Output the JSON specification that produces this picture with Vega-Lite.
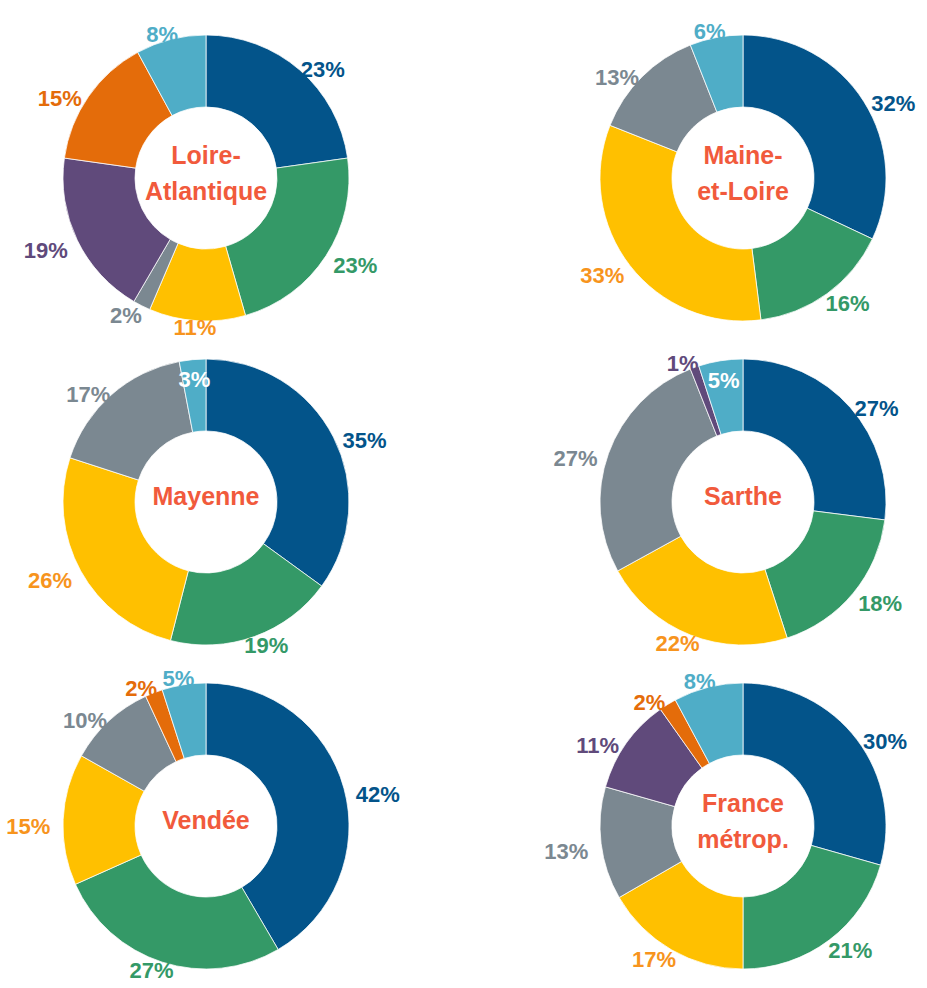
{
  "$schema": "https://vega.github.io/schema/vega-lite/v6.json",
  "padding": {"left": 6, "top": 21, "right": 0, "bottom": 0},
  "background": "white",
  "config": {"view": {"stroke": null}},
  "datasets": {
    "shares": [
      {"region": "Loire-Atlantique", "title": "Loire-\nAtlantique", "seg": "c1", "order": 1, "v": 0.23},
      {"region": "Loire-Atlantique", "title": "Loire-\nAtlantique", "seg": "c2", "order": 2, "v": 0.23},
      {"region": "Loire-Atlantique", "title": "Loire-\nAtlantique", "seg": "c3", "order": 3, "v": 0.11},
      {"region": "Loire-Atlantique", "title": "Loire-\nAtlantique", "seg": "c4", "order": 4, "v": 0.02},
      {"region": "Loire-Atlantique", "title": "Loire-\nAtlantique", "seg": "c5", "order": 5, "v": 0.19},
      {"region": "Loire-Atlantique", "title": "Loire-\nAtlantique", "seg": "c6", "order": 6, "v": 0.15},
      {"region": "Loire-Atlantique", "title": "Loire-\nAtlantique", "seg": "c7", "order": 7, "v": 0.08},
      {"region": "Maine-et-Loire", "title": "Maine-\net-Loire", "seg": "c1", "order": 1, "v": 0.32},
      {"region": "Maine-et-Loire", "title": "Maine-\net-Loire", "seg": "c2", "order": 2, "v": 0.16},
      {"region": "Maine-et-Loire", "title": "Maine-\net-Loire", "seg": "c3", "order": 3, "v": 0.33},
      {"region": "Maine-et-Loire", "title": "Maine-\net-Loire", "seg": "c4", "order": 4, "v": 0.13},
      {"region": "Maine-et-Loire", "title": "Maine-\net-Loire", "seg": "c7", "order": 7, "v": 0.06},
      {"region": "Mayenne", "title": "Mayenne", "seg": "c1", "order": 1, "v": 0.35},
      {"region": "Mayenne", "title": "Mayenne", "seg": "c2", "order": 2, "v": 0.19},
      {"region": "Mayenne", "title": "Mayenne", "seg": "c3", "order": 3, "v": 0.26},
      {"region": "Mayenne", "title": "Mayenne", "seg": "c4", "order": 4, "v": 0.17},
      {"region": "Mayenne", "title": "Mayenne", "seg": "c7", "order": 7, "v": 0.03},
      {"region": "Sarthe", "title": "Sarthe", "seg": "c1", "order": 1, "v": 0.27},
      {"region": "Sarthe", "title": "Sarthe", "seg": "c2", "order": 2, "v": 0.18},
      {"region": "Sarthe", "title": "Sarthe", "seg": "c3", "order": 3, "v": 0.22},
      {"region": "Sarthe", "title": "Sarthe", "seg": "c4", "order": 4, "v": 0.27},
      {"region": "Sarthe", "title": "Sarthe", "seg": "c5", "order": 5, "v": 0.01},
      {"region": "Sarthe", "title": "Sarthe", "seg": "c7", "order": 7, "v": 0.05},
      {"region": "Vendée", "title": "Vendée", "seg": "c1", "order": 1, "v": 0.42},
      {"region": "Vendée", "title": "Vendée", "seg": "c2", "order": 2, "v": 0.27},
      {"region": "Vendée", "title": "Vendée", "seg": "c3", "order": 3, "v": 0.15},
      {"region": "Vendée", "title": "Vendée", "seg": "c4", "order": 4, "v": 0.10},
      {"region": "Vendée", "title": "Vendée", "seg": "c6", "order": 6, "v": 0.02},
      {"region": "Vendée", "title": "Vendée", "seg": "c7", "order": 7, "v": 0.05},
      {"region": "France métrop.", "title": "France\nmétrop.", "seg": "c1", "order": 1, "v": 0.30},
      {"region": "France métrop.", "title": "France\nmétrop.", "seg": "c2", "order": 2, "v": 0.21},
      {"region": "France métrop.", "title": "France\nmétrop.", "seg": "c3", "order": 3, "v": 0.17},
      {"region": "France métrop.", "title": "France\nmétrop.", "seg": "c4", "order": 4, "v": 0.13},
      {"region": "France métrop.", "title": "France\nmétrop.", "seg": "c5", "order": 5, "v": 0.11},
      {"region": "France métrop.", "title": "France\nmétrop.", "seg": "c6", "order": 6, "v": 0.02},
      {"region": "France métrop.", "title": "France\nmétrop.", "seg": "c7", "order": 7, "v": 0.08}
    ]
  },
  "data": {"name": "shares"},
  "columns": 2,
  "bounds": "flush",
  "spacing": {"row": 34, "column": 247},
  "concat": [
    {
      "width": 290, "height": 290,
      "transform": [{"filter": "datum.region == 'Loire-Atlantique'"}],
      "layer": [
        {"mark": {"type": "arc", "radius": 143, "radius2": 71, "stroke": "white", "strokeWidth": 0.75},
         "encoding": {"theta": {"field": "v", "type": "quantitative", "stack": "normalize"}, "order": {"field": "order", "type": "quantitative"},
           "fill": {"field": "seg", "type": "nominal", "legend": null, "scale": {"domain": ["c1", "c2", "c3", "c4", "c5", "c6", "c7"], "range": ["#03548A", "#349967", "#FFC000", "#7B8891", "#604A7B", "#E46C0A", "#4FADC7"]}}}},
        {"mark": {"type": "text", "radius": 150, "dx": {"expr": "28 * sin(PI * (datum.v_start + datum.v_end))"}, "dy": {"expr": "8 * abs(sin(PI * (datum.v_start + datum.v_end)))"}, "fontSize": 22, "fontWeight": "bold", "font": "Liberation Sans", "align": "center", "baseline": "middle"},
         "encoding": {"theta": {"field": "v", "type": "quantitative", "stack": "normalize"}, "order": {"field": "order", "type": "quantitative"},
           "text": {"field": "v", "type": "quantitative", "format": ".0%"},
           "color": {"field": "seg", "type": "nominal", "legend": null, "scale": {"domain": ["c1", "c2", "c3", "c4", "c5", "c6", "c7"], "range": ["#03548A", "#349967", "#F7941D", "#7B8891", "#604A7B", "#E46C0A", "#4FADC7"]}}}},
        {"transform": [{"filter": "datum.order == 1"}],
         "mark": {"type": "text", "fontSize": 25, "fontWeight": "bold", "font": "Liberation Sans", "align": "center", "baseline": "middle", "lineBreak": "\n", "lineHeight": 36, "color": "#F15A3C", "dy": -22},
         "encoding": {"text": {"field": "title", "type": "nominal"}}}
      ]
    },
    {
      "width": 290, "height": 290,
      "transform": [{"filter": "datum.region == 'Maine-et-Loire'"}],
      "layer": [
        {"mark": {"type": "arc", "radius": 143, "radius2": 71, "stroke": "white", "strokeWidth": 0.75},
         "encoding": {"theta": {"field": "v", "type": "quantitative", "stack": "normalize"}, "order": {"field": "order", "type": "quantitative"},
           "fill": {"field": "seg", "type": "nominal", "legend": null, "scale": {"domain": ["c1", "c2", "c3", "c4", "c5", "c6", "c7"], "range": ["#03548A", "#349967", "#FFC000", "#7B8891", "#604A7B", "#E46C0A", "#4FADC7"]}}}},
        {"mark": {"type": "text", "radius": 150, "dx": {"expr": "28 * sin(PI * (datum.v_start + datum.v_end))"}, "dy": {"expr": "8 * abs(sin(PI * (datum.v_start + datum.v_end)))"}, "fontSize": 22, "fontWeight": "bold", "font": "Liberation Sans", "align": "center", "baseline": "middle"},
         "encoding": {"theta": {"field": "v", "type": "quantitative", "stack": "normalize"}, "order": {"field": "order", "type": "quantitative"},
           "text": {"field": "v", "type": "quantitative", "format": ".0%"},
           "color": {"field": "seg", "type": "nominal", "legend": null, "scale": {"domain": ["c1", "c2", "c3", "c4", "c5", "c6", "c7"], "range": ["#03548A", "#349967", "#F7941D", "#7B8891", "#604A7B", "#E46C0A", "#4FADC7"]}}}},
        {"transform": [{"filter": "datum.order == 1"}],
         "mark": {"type": "text", "fontSize": 25, "fontWeight": "bold", "font": "Liberation Sans", "align": "center", "baseline": "middle", "lineBreak": "\n", "lineHeight": 36, "color": "#F15A3C", "dy": -22},
         "encoding": {"text": {"field": "title", "type": "nominal"}}}
      ]
    },
    {
      "width": 290, "height": 290,
      "transform": [{"filter": "datum.region == 'Mayenne'"}],
      "layer": [
        {"mark": {"type": "arc", "radius": 143, "radius2": 71, "stroke": "white", "strokeWidth": 0.75},
         "encoding": {"theta": {"field": "v", "type": "quantitative", "stack": "normalize"}, "order": {"field": "order", "type": "quantitative"},
           "fill": {"field": "seg", "type": "nominal", "legend": null, "scale": {"domain": ["c1", "c2", "c3", "c4", "c5", "c6", "c7"], "range": ["#03548A", "#349967", "#FFC000", "#7B8891", "#604A7B", "#E46C0A", "#4FADC7"]}}}},
        {"mark": {"type": "text", "radius": 150, "dx": {"expr": "28 * sin(PI * (datum.v_start + datum.v_end))"}, "dy": {"expr": "8 * abs(sin(PI * (datum.v_start + datum.v_end)))"}, "fontSize": 22, "fontWeight": "bold", "font": "Liberation Sans", "align": "center", "baseline": "middle"},
         "encoding": {"theta": {"field": "v", "type": "quantitative", "stack": "normalize"}, "order": {"field": "order", "type": "quantitative"},
           "text": {"field": "v", "type": "quantitative", "format": ".0%"},
           "color": {"field": "seg", "type": "nominal", "legend": null, "scale": {"domain": ["c1", "c2", "c3", "c4", "c5", "c6", "c7"], "range": ["#03548A", "#349967", "#F7941D", "#7B8891", "#604A7B", "#E46C0A", "#4FADC7"]}},
           "opacity": {"condition": {"test": "datum.seg == 'c7'", "value": 0}, "value": 1}}},
        {"mark": {"type": "text", "radius": 123, "fontSize": 22, "fontWeight": "bold", "font": "Liberation Sans", "align": "center", "baseline": "middle", "color": "white"},
         "encoding": {"theta": {"field": "v", "type": "quantitative", "stack": "normalize"}, "order": {"field": "order", "type": "quantitative"}, "detail": {"field": "seg", "type": "nominal"},
           "text": {"field": "v", "type": "quantitative", "format": ".0%"},
           "opacity": {"condition": {"test": "datum.seg == 'c7'", "value": 1}, "value": 0}}},
        {"transform": [{"filter": "datum.order == 1"}],
         "mark": {"type": "text", "fontSize": 25, "fontWeight": "bold", "font": "Liberation Sans", "align": "center", "baseline": "middle", "color": "#F15A3C", "dy": -5},
         "encoding": {"text": {"field": "title", "type": "nominal"}}}
      ]
    },
    {
      "width": 290, "height": 290,
      "transform": [{"filter": "datum.region == 'Sarthe'"}],
      "layer": [
        {"mark": {"type": "arc", "radius": 143, "radius2": 71, "stroke": "white", "strokeWidth": 0.75},
         "encoding": {"theta": {"field": "v", "type": "quantitative", "stack": "normalize"}, "order": {"field": "order", "type": "quantitative"},
           "fill": {"field": "seg", "type": "nominal", "legend": null, "scale": {"domain": ["c1", "c2", "c3", "c4", "c5", "c6", "c7"], "range": ["#03548A", "#349967", "#FFC000", "#7B8891", "#604A7B", "#E46C0A", "#4FADC7"]}}}},
        {"mark": {"type": "text", "radius": 150, "dx": {"expr": "28 * sin(PI * (datum.v_start + datum.v_end))"}, "dy": {"expr": "8 * abs(sin(PI * (datum.v_start + datum.v_end)))"}, "fontSize": 22, "fontWeight": "bold", "font": "Liberation Sans", "align": "center", "baseline": "middle"},
         "encoding": {"theta": {"field": "v", "type": "quantitative", "stack": "normalize"}, "order": {"field": "order", "type": "quantitative"},
           "text": {"field": "v", "type": "quantitative", "format": ".0%"},
           "color": {"field": "seg", "type": "nominal", "legend": null, "scale": {"domain": ["c1", "c2", "c3", "c4", "c5", "c6", "c7"], "range": ["#03548A", "#349967", "#F7941D", "#7B8891", "#604A7B", "#E46C0A", "#4FADC7"]}},
           "opacity": {"condition": {"test": "datum.seg == 'c7'", "value": 0}, "value": 1}}},
        {"mark": {"type": "text", "radius": 123, "fontSize": 22, "fontWeight": "bold", "font": "Liberation Sans", "align": "center", "baseline": "middle", "color": "white"},
         "encoding": {"theta": {"field": "v", "type": "quantitative", "stack": "normalize"}, "order": {"field": "order", "type": "quantitative"}, "detail": {"field": "seg", "type": "nominal"},
           "text": {"field": "v", "type": "quantitative", "format": ".0%"},
           "opacity": {"condition": {"test": "datum.seg == 'c7'", "value": 1}, "value": 0}}},
        {"transform": [{"filter": "datum.order == 1"}],
         "mark": {"type": "text", "fontSize": 25, "fontWeight": "bold", "font": "Liberation Sans", "align": "center", "baseline": "middle", "color": "#F15A3C", "dy": -5},
         "encoding": {"text": {"field": "title", "type": "nominal"}}}
      ]
    },
    {
      "width": 290, "height": 290,
      "transform": [{"filter": "datum.region == 'Vendée'"}],
      "layer": [
        {"mark": {"type": "arc", "radius": 143, "radius2": 71, "stroke": "white", "strokeWidth": 0.75},
         "encoding": {"theta": {"field": "v", "type": "quantitative", "stack": "normalize"}, "order": {"field": "order", "type": "quantitative"},
           "fill": {"field": "seg", "type": "nominal", "legend": null, "scale": {"domain": ["c1", "c2", "c3", "c4", "c5", "c6", "c7"], "range": ["#03548A", "#349967", "#FFC000", "#7B8891", "#604A7B", "#E46C0A", "#4FADC7"]}}}},
        {"mark": {"type": "text", "radius": 150, "dx": {"expr": "28 * sin(PI * (datum.v_start + datum.v_end))"}, "dy": {"expr": "8 * abs(sin(PI * (datum.v_start + datum.v_end)))"}, "fontSize": 22, "fontWeight": "bold", "font": "Liberation Sans", "align": "center", "baseline": "middle"},
         "encoding": {"theta": {"field": "v", "type": "quantitative", "stack": "normalize"}, "order": {"field": "order", "type": "quantitative"},
           "text": {"field": "v", "type": "quantitative", "format": ".0%"},
           "color": {"field": "seg", "type": "nominal", "legend": null, "scale": {"domain": ["c1", "c2", "c3", "c4", "c5", "c6", "c7"], "range": ["#03548A", "#349967", "#F7941D", "#7B8891", "#604A7B", "#E46C0A", "#4FADC7"]}}}},
        {"transform": [{"filter": "datum.order == 1"}],
         "mark": {"type": "text", "fontSize": 25, "fontWeight": "bold", "font": "Liberation Sans", "align": "center", "baseline": "middle", "color": "#F15A3C", "dy": -5},
         "encoding": {"text": {"field": "title", "type": "nominal"}}}
      ]
    },
    {
      "width": 290, "height": 290,
      "transform": [{"filter": "datum.region == 'France métrop.'"}],
      "layer": [
        {"mark": {"type": "arc", "radius": 143, "radius2": 71, "stroke": "white", "strokeWidth": 0.75},
         "encoding": {"theta": {"field": "v", "type": "quantitative", "stack": "normalize"}, "order": {"field": "order", "type": "quantitative"},
           "fill": {"field": "seg", "type": "nominal", "legend": null, "scale": {"domain": ["c1", "c2", "c3", "c4", "c5", "c6", "c7"], "range": ["#03548A", "#349967", "#FFC000", "#7B8891", "#604A7B", "#E46C0A", "#4FADC7"]}}}},
        {"mark": {"type": "text", "radius": 150, "dx": {"expr": "28 * sin(PI * (datum.v_start + datum.v_end))"}, "dy": {"expr": "8 * abs(sin(PI * (datum.v_start + datum.v_end)))"}, "fontSize": 22, "fontWeight": "bold", "font": "Liberation Sans", "align": "center", "baseline": "middle"},
         "encoding": {"theta": {"field": "v", "type": "quantitative", "stack": "normalize"}, "order": {"field": "order", "type": "quantitative"},
           "text": {"field": "v", "type": "quantitative", "format": ".0%"},
           "color": {"field": "seg", "type": "nominal", "legend": null, "scale": {"domain": ["c1", "c2", "c3", "c4", "c5", "c6", "c7"], "range": ["#03548A", "#349967", "#F7941D", "#7B8891", "#604A7B", "#E46C0A", "#4FADC7"]}}}},
        {"transform": [{"filter": "datum.order == 1"}],
         "mark": {"type": "text", "fontSize": 25, "fontWeight": "bold", "font": "Liberation Sans", "align": "center", "baseline": "middle", "lineBreak": "\n", "lineHeight": 36, "color": "#F15A3C", "dy": -22},
         "encoding": {"text": {"field": "title", "type": "nominal"}}}
      ]
    }
  ]
}
